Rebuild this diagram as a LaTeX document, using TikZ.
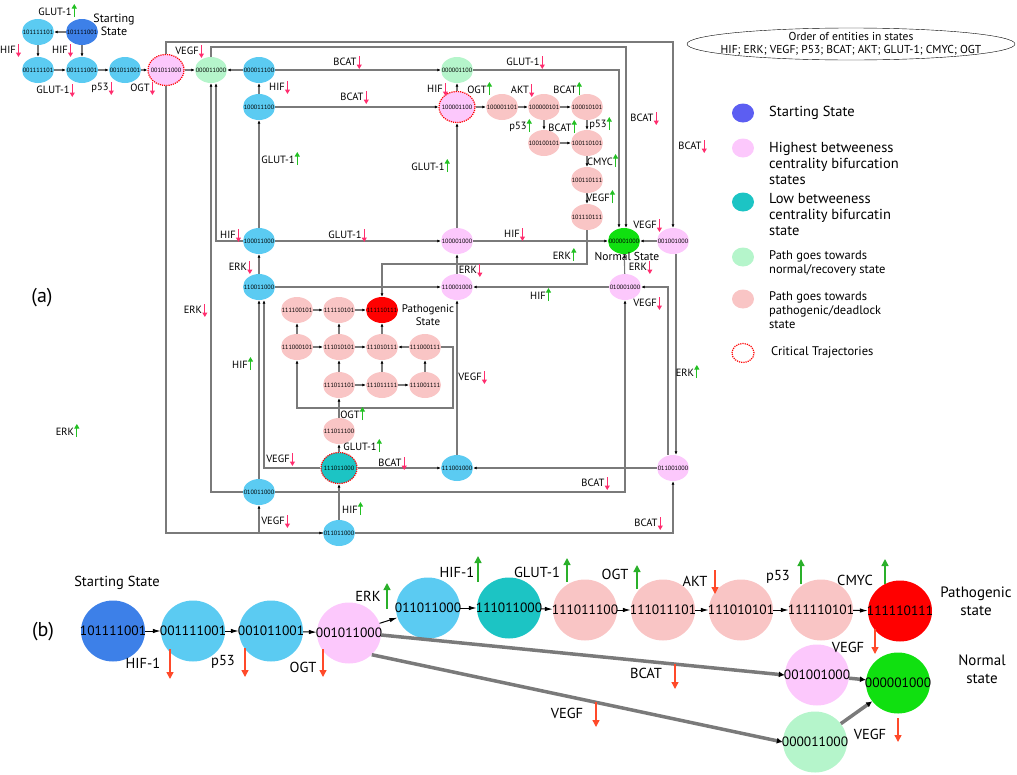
\documentclass[tikz,border=0pt]{standalone}
\usepackage{fontspec}
\setmainfont{PT Sans}
\usetikzlibrary{shapes.geometric,arrows.meta}

\definecolor{cblue}{HTML}{5BCBF2}
\definecolor{cstart}{HTML}{3D80E8}
\definecolor{cleg}{HTML}{5C5EF2}
\definecolor{cpink}{HTML}{FCC8FC}
\definecolor{cteal}{HTML}{1CC4C4}
\definecolor{clgreen}{HTML}{B5F5CB}
\definecolor{csalmon}{HTML}{F9C5C5}
\definecolor{cgreen}{HTML}{10E010}
\definecolor{lgray}{HTML}{7A7A7A}
\definecolor{ared}{HTML}{FF2D6E}
\definecolor{agreen}{HTML}{22C022}
\definecolor{bred}{HTML}{FF4A2A}
\definecolor{bgreen}{HTML}{2AB02A}

\tikzset{
  st/.style={ellipse, minimum width=32pt, minimum height=26pt, inner sep=0pt,
    font=\fontsize{6.2}{6}\selectfont,
    execute at begin node=\hbox to 0pt\bgroup\hss, execute at end node=\hss\egroup},
  crit/.style={draw=red, densely dotted, line width=1.2pt, minimum width=36pt, minimum height=31pt},
  bst/.style={st, minimum width=64pt, minimum height=61pt, font=\fontsize{13.5}{14}\selectfont},
  ln/.style={draw=lgray, line width=1.1pt, -{Latex[length=3.5pt,width=3pt,color=black]}},
  bln/.style={draw=black, line width=1pt, -{Latex[length=8pt,width=4.5pt]}},
  gln/.style={draw=lgray, line width=3.5pt, -{Latex[length=6pt,width=6pt,color=black]}},
  tag/.style={inner sep=0pt, font=\fontsize{10.5}{11}\selectfont},
  dnar/.style={draw=ared, line width=1pt, -{Triangle[length=4.5pt,width=5pt]}},
  upar/.style={draw=agreen, line width=1pt, -{Triangle[length=4.5pt,width=5pt]}},
  bdn/.style={draw=bred, line width=1.4pt, -{Triangle[length=7pt,width=7pt]}},
  bup/.style={draw=bgreen, line width=1.4pt, -{Triangle[length=7pt,width=7pt]}},
  btag/.style={inner sep=0pt, font=\fontsize{14.5}{15}\selectfont},
  legtxt/.style={anchor=west, align=left, inner sep=0pt, font=\fontsize{14.5}{16}\selectfont},
}

\newcommand{\tagdn}[3]{%
  \node[tag] (tg) at (#1,#2) {#3};
  \draw[dnar] ([xshift=2.5pt,yshift=6pt]tg.east) -- ([xshift=2.5pt,yshift=-7pt]tg.east);}
\newcommand{\tagup}[3]{%
  \node[tag] (tg) at (#1,#2) {#3};
  \draw[upar] ([xshift=2.5pt,yshift=-5pt]tg.east) -- ([xshift=2.5pt,yshift=8pt]tg.east);}

\begin{document}
\begin{tikzpicture}[x=1pt, y=-1pt]
    \useasboundingbox (0,0) rectangle (1017,774);

    % (a) states
    \node[st, fill=cblue] (a1) at (38,32) {101111101};
    \node[st, fill=cstart] (a0) at (82,32) {101111001};
    \node[st, fill=cblue] (a2) at (38,70) {001111101};
    \node[st, fill=cblue] (a3) at (82,70) {001111001};
    \node[st, fill=cblue] (a4) at (125,70) {001011001};
    \node[st, crit, fill=cpink] (a5) at (166,70) {001011000};
    \node[st, fill=clgreen] (g1) at (211,70) {000011000};
    \node[st, fill=cblue] (b1) at (259,70) {000011100};
    \node[st, fill=clgreen] (g2) at (457,70) {000001100};
    \node[st, fill=cblue] (b2) at (259,107) {100011100};
    \node[st, crit, fill=cpink] (p1) at (457,107) {100001100};
    \node[st, fill=csalmon] (r1) at (502,107) {100001101};
    \node[st, fill=csalmon] (r2) at (544,107) {100000101};
    \node[st, fill=csalmon] (r3) at (587,107) {100010101};
    \node[st, fill=csalmon] (r4) at (544,143) {100100101};
    \node[st, fill=csalmon] (r5) at (587,143) {100110101};
    \node[st, fill=csalmon] (r6) at (587,180) {100110111};
    \node[st, fill=csalmon] (r7) at (587,217) {101110111};
    \node[st, fill=cblue] (b3) at (259,241) {100011000};
    \node[st, fill=cpink] (p2) at (457,241) {100001000};
    \node[st, fill=cgreen] (nrm) at (624,241) {000001000};
    \node[st, fill=cpink] (p3) at (673,241) {001001000};
    \node[st, fill=cblue] (b4) at (259,287) {110011000};
    \node[st, fill=cpink] (p4) at (457,287) {110001000};
    \node[st, fill=cpink] (p5) at (625,287) {010001000};
    \node[st, fill=red] (path) at (382,310) {111110111};
    \node[st, fill=csalmon] (c1) at (297,310) {111100101};
    \node[st, fill=csalmon] (c2) at (339,310) {111110101};
    \node[st, fill=csalmon] (c3) at (297,347) {111000101};
    \node[st, fill=csalmon] (c4) at (339,347) {111010101};
    \node[st, fill=csalmon] (c5) at (382,347) {111010111};
    \node[st, fill=csalmon] (c6) at (425,347) {111000111};
    \node[st, fill=csalmon] (c7) at (339,385) {111011101};
    \node[st, fill=csalmon] (c8) at (382,385) {111011111};
    \node[st, fill=csalmon] (c9) at (425,385) {111001111};
    \node[st, fill=csalmon] (c10) at (339,431) {111011100};
    \node[st, crit, fill=cteal] (t1) at (339,468) {111011000};
    \node[st, fill=cblue] (b5) at (457,468) {111001000};
    \node[st, fill=cpink] (p6) at (673,468) {011001000};
    \node[st, fill=cblue] (b6) at (259,492) {010011000};
    \node[st, fill=cblue] (b7) at (339,533) {011011000};

    \node[font=\fontsize{12}{13}\selectfont, align=center, inner sep=0pt] (lstart) at (114,25) {Starting\\State};
    \node[font=\fontsize{11.5}{12}\selectfont, inner sep=0pt] (lnorm) at (627,256) {Normal State};
    \node[font=\fontsize{11}{13}\selectfont, align=center, inner sep=0pt] (lpath) at (428,315) {Pathogenic\\State};

    % (a) transitions
    \draw[ln] (a0) -- (a1);
    \draw[ln] (a1) -- (a2);
    \draw[ln] (a0) -- (a3);
    \draw[ln] (a2) -- (a3);
    \draw[ln] (a3) -- (a4);
    \draw[ln] (a4) -- (a5);
    \draw[ln] (a5) -- (g1);
    \draw[ln] (b1) -- (g1);
    \draw[ln] (b2) -- (b1);
    \draw[ln] (b1) -- (g2);
    \draw[ln] (b2) -- (p1);
    \draw[ln] (p1) -- (g2);
    \draw[ln] (p1) -- (r1);
    \draw[ln] (r1) -- (r2);
    \draw[ln] (r2) -- (r3);
    \draw[ln] (r2) -- (r4);
    \draw[ln] (r4) -- (r5);
    \draw[ln] (r3) -- (r5);
    \draw[ln] (r5) -- (r6);
    \draw[ln] (r6) -- (r7);
    \draw[ln] (r7) -- (587,264) -- (382,264) -- (path);
    \draw[ln] (b3) -- (b2);
    \draw[ln] (b3) -- (p2);
    \draw[ln] (p2) -- (p1);
    \draw[ln] (p2) -- (nrm);
    \draw[ln] (b3) -- (216,241) -- ([xshift=5pt]g1.south);
    \draw[ln] (b6) -- (211,492) -- (g1);
    \draw[ln] (b4) -- (b3);
    \draw[ln] (b4) -- (p4);
    \draw[ln] (p4) -- (p2);
    \draw[ln] (p5) -- (p4);
    \draw[ln] (p5) -- (nrm);
    \draw[ln] (p3) -- (nrm);
    \draw[ln] (a5) -- (166,42) -- (673,42) -- (p3);
    \draw[ln] (g1) -- (211,47) -- (626,47) -- ([xshift=2pt]nrm.north);
    \draw[ln] (g2) -- (619,70) -- ([xshift=-5pt]nrm.north);
    \draw[ln] ([xshift=3pt]p3.south) -- ([xshift=3pt]p6.north);
    \draw[ln] ([xshift=-5pt]p6.north) -- (668,287) -- (p5);
    \draw[ln] (p6) -- (b5);
    \draw[ln] (b5) -- (p4);
    \draw[ln] (b6) -- (b4);
    \draw[ln] (t1) -- (264,468) -- ([xshift=5pt]b4.south);
    \draw[ln] (b7) -- (259,533) -- (b6);
    \draw[ln] (b7) -- (t1);
    \draw[ln] (t1) -- (c10);
    \draw[ln] (c10) -- (c7);
    \draw[ln] (t1) -- (b5);
    \draw[ln] (b6) -- (625,492) -- (p5);
    \draw[ln] (b7) -- (673,533) -- (p6);
    \draw[ln] (a5) -- (166,533) -- (b7);
    % pathogenic cluster
    \draw[ln] (c1) -- (c2);
    \draw[ln] (c2) -- (path);
    \draw[ln] (c3) -- (c1);
    \draw[ln] (c4) -- (c2);
    \draw[ln] (c5) -- (path);
    \draw[ln] (c3) -- (c4);
    \draw[ln] (c4) -- (c5);
    \draw[ln] (c6) -- (c5);
    \draw[ln] (c7) -- (c4);
    \draw[ln] (c8) -- (c5);
    \draw[ln] (c9) -- (c6);
    \draw[ln] (c7) -- (c8);
    \draw[ln] (c8) -- (c9);
    \draw[ln] (c6) -- (453,347) -- (453,408) -- (297,408) -- (c3);

    % (a) change labels
    \tagup{55}{12}{GLUT-1}
    \tagdn{8}{50}{HIF}
    \tagdn{60}{50}{HIF}
    \tagdn{53}{90}{GLUT-1}
    \tagdn{100}{88}{p53}
    \tagdn{140}{88}{OGT}
    \tagdn{187}{51}{VEGF}
    \tagdn{345}{62}{BCAT}
    \tagdn{277}{87}{HIF}
    \tagdn{352}{97}{BCAT}
    \tagdn{435}{89}{HIF}
    \tagup{477}{90}{OGT}
    \tagdn{520}{90}{AKT}
    \tagup{565}{90}{BCAT}
    \tagup{518}{127}{p53}
    \tagup{560}{128}{BCAT}
    \tagup{598}{125}{p53}
    \tagup{600}{162}{CMYC}
    \tagup{598}{198}{VEGF}
    \tagdn{523}{62}{GLUT-1}
    \tagup{278}{160}{GLUT-1}
    \tagup{428}{167}{GLUT-1}
    \tagdn{642}{118}{BCAT}
    \tagdn{690}{146}{BCAT}
    \tagdn{645}{225}{VEGF}
    \tagdn{228}{235}{HIF}
    \tagdn{345}{235}{GLUT-1}
    \tagdn{512}{234}{HIF}
    \tagup{562}{256}{ERK}
    \tagdn{238}{267}{ERK}
    \tagdn{468}{270}{ERK}
    \tagdn{638}{267}{ERK}
    \tagup{538}{296}{HIF}
    \tagdn{645}{303}{VEGF}
    \tagdn{193}{310}{ERK}
    \tagup{240}{365}{HIF}
    \tagdn{470}{377}{VEGF}
    \tagup{685}{373}{ERK}
    \tagup{65}{432}{ERK}
    \tagup{350}{415}{OGT}
    \tagup{360}{447}{GLUT-1}
    \tagdn{278}{459}{VEGF}
    \tagdn{390}{463}{BCAT}
    \tagdn{593}{483}{BCAT}
    \tagup{350}{510}{HIF}
    \tagdn{273}{521}{VEGF}
    \tagdn{646}{523}{BCAT}

    \node[font=\fontsize{20}{20}\selectfont] (la) at (42,298) {(a)};

    % legend
    \node[inner sep=0pt, align=center, font=\fontsize{11.5}{12.5}\selectfont] (ord) at (851,44) {Order of entities in states\\HIF; ERK; VEGF; P53; BCAT; AKT; GLUT-1; CMYC; OGT};
    \draw (ord.center) ellipse [x radius=164pt, y radius=16pt];
    \node[ellipse, fill=cleg, minimum width=22pt, minimum height=19pt] (k1) at (743,113) {};
    \node[legtxt] (k1t) at (769,113) {Starting State};
    \node[ellipse, fill=cpink, minimum width=22pt, minimum height=19pt] (k2) at (743,148) {};
    \node[legtxt] (k2t) at (769,163) {Highest betweeness\\centrality bifurcation\\states};
    \node[ellipse, fill=cteal, minimum width=22pt, minimum height=19pt] (k3) at (743,202) {};
    \node[legtxt] (k3t) at (769,215) {Low betweeness\\centrality bifurcatin\\state};
    \node[ellipse, fill=clgreen, minimum width=22pt, minimum height=19pt] (k4) at (743,257) {};
    \node[legtxt, font=\fontsize{12.5}{14}\selectfont] (k4t) at (769,263) {Path goes towards\\normal/recovery state};
    \node[ellipse, fill=csalmon, minimum width=22pt, minimum height=19pt] (k5) at (743,299) {};
    \node[legtxt, font=\fontsize{12.5}{14}\selectfont] (k5t) at (769,310) {Path goes towards\\pathogenic/deadlock\\state};
    \node[ellipse, draw=red, densely dotted, line width=1.2pt, minimum width=22pt, minimum height=19pt] (k6) at (743,353) {};
    \node[legtxt, font=\fontsize{12.5}{14}\selectfont] (k6t) at (771,352) {Critical Trajectories};

    % (b) states
    \node[font=\fontsize{20}{20}\selectfont] (lb) at (43,632) {(b)};
    \node[btag] (bstart) at (117,583) {Starting State};
    \node[bst, fill=cstart] (B0) at (113,631) {101111001};
    \node[bst, fill=cblue] (B1) at (193,631) {001111001};
    \node[bst, fill=cblue] (B2) at (271,631) {001011001};
    \node[bst, fill=cpink] (B3) at (349,633) {001011000};
    \node[bst, fill=cblue] (B4) at (428,608) {011011000};
    \node[bst, fill=cteal] (B5) at (509,608) {111011000};
    \node[bst, fill=csalmon] (B6) at (585,610) {111011100};
    \node[bst, fill=csalmon] (B7) at (663,610) {111011101};
    \node[bst, fill=csalmon] (B8) at (741,610) {111010101};
    \node[bst, fill=csalmon] (B9) at (821,610) {111110101};
    \node[bst, fill=red] (B10) at (900,611) {111110111};
    \node[bst, fill=cpink] (B11) at (817,675) {001001000};
    \node[bst, fill=cgreen] (B12) at (898,683) {000001000};
    \node[bst, fill=clgreen] (B13) at (815,742) {000011000};
    \node[btag, align=center, font=\fontsize{15}{18}\selectfont] (bpath) at (976,601) {Pathogenic\\state};
    \node[btag, align=center, font=\fontsize{15}{18}\selectfont] (bnorm) at (982,669) {Normal\\state};

    % (b) transitions
    \draw[bln] (B0) -- (B1);
    \draw[bln] (B1) -- (B2);
    \draw[bln] (B2) -- (B3);
    \draw[bln] (B3) -- (B4);
    \draw[bln] (B4) -- (B5);
    \draw[bln] (B5) -- (B6);
    \draw[bln] (B6) -- (B7);
    \draw[bln] (B7) -- (B8);
    \draw[bln] (B8) -- (B9);
    \draw[bln] (B9) -- (B10);
    \draw[gln] ([yshift=-2pt]B3.east) -- (B11.west);
    \draw[gln] (B3.south east) -- (B13.west);
    \draw[gln] (B11) -- (B12);
    \draw[gln] (B13) -- (B12);

    % (b) change labels
    \node[btag] (h1) at (143,663) {HIF-1};
    \draw[bdn] (170,649) -- (170,679);
    \node[btag] (h2) at (223,662) {p53};
    \draw[bdn] (245,648) -- (245,677);
    \node[btag] (h3) at (303,667) {OGT};
    \draw[bdn] (323,649) -- (323,677);
    \node[btag] (h4) at (368,596) {ERK};
    \draw[bup] (387,609) -- (387,583);
    \node[btag] (h5) at (457,572) {HIF-1};
    \draw[bup] (478,582) -- (478,556);
    \node[btag] (h6) at (537,572) {GLUT-1};
    \draw[bup] (567,582) -- (567,558);
    \node[btag] (h7) at (615,574) {OGT};
    \draw[bup] (637,589) -- (637,565);
    \node[btag] (h8) at (695,581) {AKT};
    \draw[bdn] (715,570) -- (715,594);
    \node[btag] (h9) at (778,577) {p53};
    \draw[bup] (801,584) -- (801,559);
    \node[btag] (h10) at (855,580) {CMYC};
    \draw[bup] (885,584) -- (885,559);
    \node[btag] (h11) at (848,647) {VEGF};
    \draw[bdn] (875,629) -- (875,654);
    \node[btag] (h12) at (646,673) {BCAT};
    \draw[bdn] (675,664) -- (675,689);
    \node[btag] (h13) at (567,713) {VEGF};
    \draw[bdn] (596,702) -- (596,727);
    \node[btag] (h14) at (870,734) {VEGF};
    \draw[bdn] (898,718) -- (898,742);
\end{tikzpicture}
\end{document}
